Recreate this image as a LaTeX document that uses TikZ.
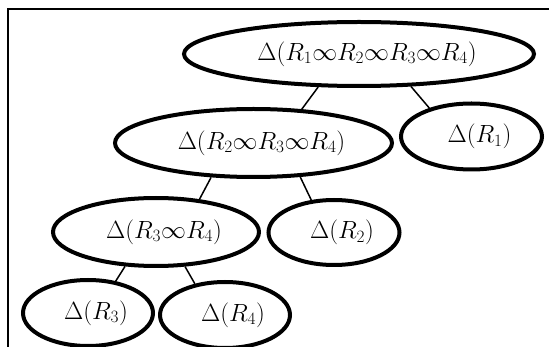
\documentclass[tikz,border=0pt]{standalone}
\usetikzlibrary{shapes.geometric}
\begin{document}
\begin{tikzpicture}[x=1pt,y=-1pt,
  ell/.style={ellipse,draw,line width=4pt,inner sep=0pt,
    font=\fontsize{24}{28}\selectfont,
    execute at begin node={\hspace*{16pt}}},
  conn/.style={line width=1.5pt}]
\useasboundingbox (0,0) rectangle (549,347);
\draw[line width=2pt] (7.5,347) -- (7.5,9.5) -- (549,9.5);
\node[ell,minimum width=350pt,minimum height=64pt] (A) at (359,54) {$\Delta(R_1\infty R_2\infty R_3\infty R_4)$};
\node[ell,minimum width=277pt,minimum height=68pt] (B) at (253.5,143) {$\Delta(R_2\infty R_3\infty R_4)$};
\node[ell,minimum width=141pt,minimum height=66pt] (C) at (471.5,136.5) {$\Delta(R_1)$};
\node[ell,minimum width=206pt,minimum height=68pt] (D) at (156,232) {$\Delta(R_3\infty R_4)$};
\node[ell,minimum width=131pt,minimum height=65pt] (E) at (334,232.5) {$\Delta(R_2)$};
\node[ell,minimum width=130pt,minimum height=66pt] (F) at (88,313) {$\Delta(R_3)$};
\node[ell,minimum width=130pt,minimum height=66pt] (G) at (225,315) {$\Delta(R_4)$};
\draw[conn] (A.219) -- (B.35);
\draw[conn] (A.328) -- (C.146);
\draw[conn] (B.219) -- (D.37);
\draw[conn] (B.324) -- (E.125);
\draw[conn] (D.228) -- (F.49);
\draw[conn] (D.310) -- (G.134);
\end{tikzpicture}
\end{document}
